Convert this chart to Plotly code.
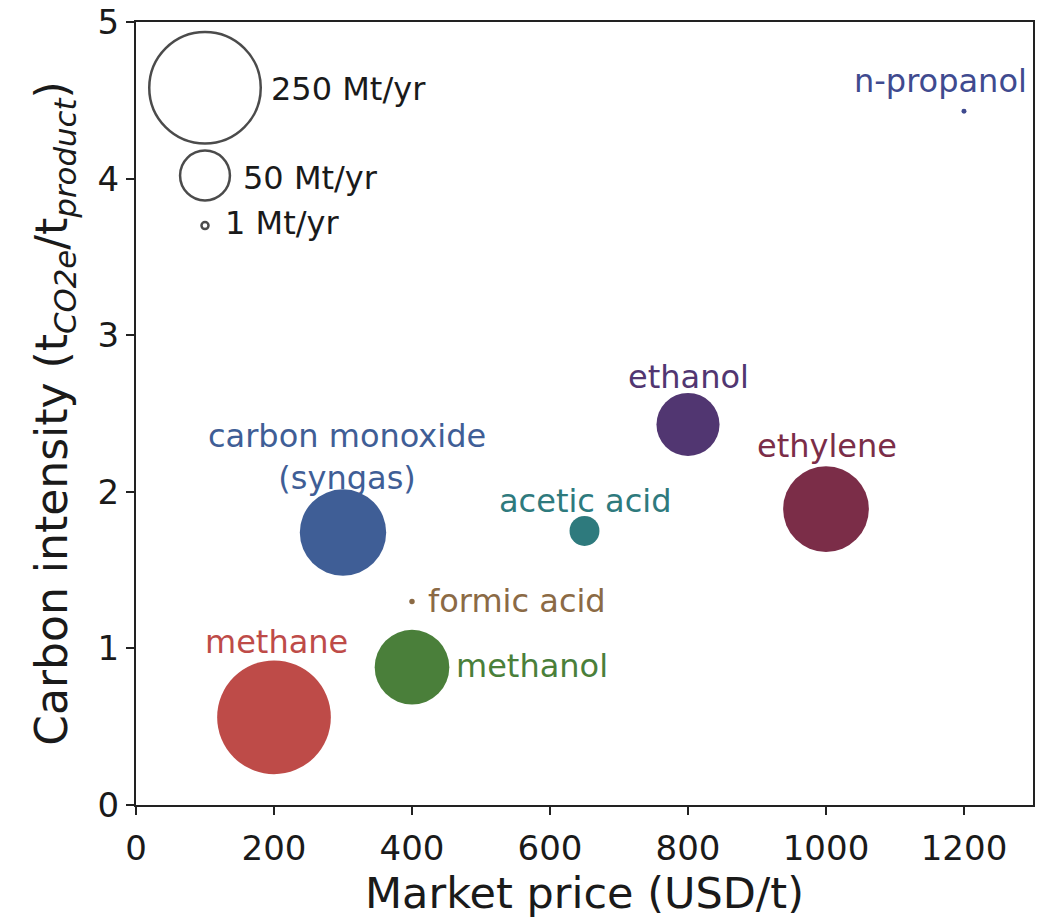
import plotly.graph_objects as go

# ---- data ----
species = ["methane", "carbon monoxide", "methanol", "formic acid",
           "acetic acid", "ethanol", "ethylene", "n-propanol"]
labels = ["methane", "carbon monoxide<br>(syngas)", "methanol", "formic acid",
          "acetic acid", "ethanol", "ethylene", "n-propanol"]
price_usd_t = [200, 300, 400, 400, 650, 800, 1000, 1200]
carbon_intensity = [0.56, 1.74, 0.88, 1.30, 1.75, 2.43, 1.89, 4.43]
production_mt_yr = [260, 150, 112, 0.6, 18, 80, 148, 0.5]
colors = ["#BE4B48", "#3F5E96", "#4A7F3A", "#8B6A45",
          "#2E7A7D", "#513671", "#7B2D48", "#3F4A8F"]

legend_sizes = [250, 50, 1]
legend_labels = ["250 Mt/yr", "50 Mt/yr", "1 Mt/yr"]
legend_x = [100, 100, 100]
legend_y = [4.58, 4.02, 3.70]

# ---- styling ----
FONT = "DejaVu Sans"
max_diam = 111.5
sizeref = 2 * 250 / max_diam ** 2

fig = go.Figure()

fig.add_trace(go.Scatter(
    x=price_usd_t, y=carbon_intensity, mode="markers",
    marker=dict(size=production_mt_yr, sizemode="area", sizeref=sizeref,
                color=colors, opacity=1, line=dict(width=0)),
    showlegend=False, hoverinfo="skip"))

fig.add_trace(go.Scatter(
    x=legend_x, y=legend_y, mode="markers",
    marker=dict(size=legend_sizes, sizemode="area", sizeref=sizeref,
                color="rgba(255,255,255,0)", line=dict(width=2.5, color="#000000")),
    showlegend=False, hoverinfo="skip"))

# label offsets in pixels (style)
offsets = {
    "methane": (2, 75, "center"),
    "carbon monoxide": (4, 76, "center"),
    "methanol": (42, 1, "left"),
    "formic acid": (14, 0, "left"),
    "acetic acid": (1, 30, "center"),
    "ethanol": (0, 47, "center"),
    "ethylene": (1, 63, "center"),
    "n-propanol": (-24, 30, "center"),
}
for name, txt, x, y, c in zip(species, labels, price_usd_t, carbon_intensity, colors):
    dx, dy, anc = offsets[name]
    fig.add_annotation(x=x, y=y, text=txt, showarrow=False,
                       xshift=dx, yshift=dy, xanchor=anc, yanchor="middle",
                       font=dict(family=FONT, size=32, color=c))

leg_off = [(64, -1), (36, -3), (18, 3)]
for lab, x, y, (dx, dy) in zip(legend_labels, legend_x, legend_y, leg_off):
    fig.add_annotation(x=x, y=y, text=lab, showarrow=False,
                       xshift=dx, yshift=dy, xanchor="left", yanchor="middle",
                       font=dict(family=FONT, size=32, color="#1a1a1a"))

axis_common = dict(showline=True, linecolor="#222", linewidth=2, mirror=True,
                   ticks="outside", ticklen=8, tickwidth=1.5, tickcolor="#222",
                   showgrid=False, zeroline=False,
                   tickfont=dict(family=FONT, size=34, color="#1a1a1a"))

fig.update_xaxes(range=[0, 1300], tickvals=[0, 200, 400, 600, 800, 1000, 1200],
                 ticklabelstandoff=4,
                 title=dict(text="Market price (USD/t)", standoff=4,
                            font=dict(family=FONT, size=43, color="#1a1a1a")),
                 **axis_common)
fig.update_yaxes(range=[0, 5], tickvals=[0, 1, 2, 3, 4, 5],
                 title=dict(text="Carbon intensity (t<sub><i>CO2e</i></sub>/t<sub><i>product</i></sub>)",
                            standoff=16,
                            font=dict(family=FONT, size=44, color="#1a1a1a")),
                 **axis_common)

fig.update_layout(width=1056, height=920,
                  margin=dict(l=136, r=23, t=22, b=115, autoexpand=False),
                  paper_bgcolor="white", plot_bgcolor="white",
                  font=dict(family=FONT))

fig.write_html("out.html")
